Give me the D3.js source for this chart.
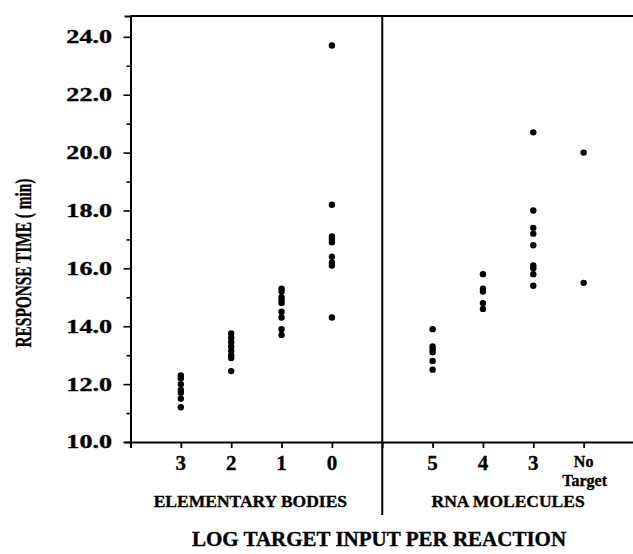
<!DOCTYPE html>
<html><head><meta charset="utf-8">
<script src="https://cdn.jsdelivr.net/npm/d3@7"></script>
<style>
html,body{margin:0;padding:0;background:#fff;}
svg{display:block;}
text{font-family:"Liberation Serif","Times New Roman",serif;font-weight:bold;fill:#000;stroke:#000;stroke-width:0.35px;}
</style></head>
<body>
<svg id="chart" width="633" height="554"></svg>
<script>
// ---- data ----
const ebLabels = ["3", "2", "1", "0"];
const rnaLabels = ["5", "4", "3", "No Target"];
const eb3 = [12.3, 12.2, 12.0, 11.8, 11.7, 11.5, 11.2];
const eb2 = [13.75, 13.6, 13.45, 13.3, 13.15, 13.0, 12.9, 12.45];
const eb1 = [15.3, 15.2, 15.0, 14.9, 14.8, 14.5, 14.3, 13.9, 13.7];
const eb0 = [23.7, 18.2, 17.1, 17.0, 16.9, 16.4, 16.2, 16.1, 14.3];
const rna5 = [13.9, 13.3, 13.2, 13.1, 12.8, 12.5];
const rna4 = [15.8, 15.3, 15.2, 14.8, 14.6];
const rna3 = [20.7, 18.0, 17.4, 17.2, 16.8, 16.1, 16.0, 15.8, 15.4];
const noTarget = [20.0, 15.5];
const yTickValues = [10, 12, 14, 16, 18, 20, 22, 24];
const groupNames = ["ELEMENTARY BODIES", "RNA MOLECULES"];
const xTitle = "LOG TARGET INPUT PER REACTION";
const yTitle = "RESPONSE TIME ( min)";

const ebSeries = [eb3, eb2, eb1, eb0];
const rnaSeries = [rna5, rna4, rna3, noTarget];

// ---- layout ----
const svg = d3.select("#chart");
const x = d3.scaleLinear().domain([0, 10]).range([130.5, 634]);
const y = d3.scaleLinear().domain([10, 24.72]).range([442, 16]);

const cats = [];
ebLabels.forEach((l, i) => cats.push({label: l, slot: 1 + i, values: ebSeries[i]}));
rnaLabels.forEach((l, i) => cats.push({label: l, slot: 6 + i, values: rnaSeries[i]}));

// y axis
const yAxis = d3.axisLeft(y)
  .tickValues(d3.range(10, 25, 1))
  .tickFormat("")
  .tickSizeOuter(0)
  .tickSize(6);
const gy = svg.append("g").attr("transform", `translate(${x(0)},0)`).call(yAxis);
gy.selectAll(".tick line")
  .attr("x2", d => d % 2 === 0 ? -7 : -4)
  .attr("stroke", "#000").attr("stroke-width", 1.6);
gy.select(".domain").attr("stroke", "#000").attr("stroke-width", 2);

svg.append("g").selectAll("text").data(yTickValues).join("text")
  .attr("transform", d => `translate(112,${y(d)}) scale(1.45,1)`)
  .attr("dy", "0.36em")
  .attr("text-anchor", "end")
  .attr("font-size", 18)
  .text(d => d.toFixed(1));

// x axis
const xAxis = d3.axisBottom(x)
  .tickValues(d3.range(0, 11, 1))
  .tickFormat("")
  .tickSizeOuter(0)
  .tickSize(6);
const gx = svg.append("g").attr("transform", `translate(0,${y(10)})`).call(xAxis);
gx.selectAll(".tick line").attr("stroke", "#000").attr("stroke-width", 1.8);
gx.select(".domain").attr("stroke", "#000").attr("stroke-width", 2);

// top frame line
svg.append("line")
  .attr("x1", x(0)).attr("x2", 633)
  .attr("y1", y.range()[1]).attr("y2", y.range()[1])
  .attr("stroke", "#000").attr("stroke-width", 2);

// divider
svg.append("line")
  .attr("x1", x(5)).attr("x2", x(5))
  .attr("y1", y.range()[1]).attr("y2", 515)
  .attr("stroke", "#000").attr("stroke-width", 2);

// points
const pts = [];
cats.forEach(c => c.values.forEach(v => pts.push({slot: c.slot, v})));
svg.append("g").selectAll("circle").data(pts).join("circle")
  .attr("cx", d => x(d.slot)).attr("cy", d => y(d.v))
  .attr("r", 3.2).attr("fill", "#000");

// x tick labels
const tl = svg.append("g");
cats.forEach(c => {
  const words = c.label.split(" ");
  if (words.length === 1) {
    tl.append("text").attr("x", x(c.slot)).attr("y", 470)
      .attr("text-anchor", "middle").attr("font-size", 21).text(c.label);
  } else {
    tl.append("text").attr("x", x(c.slot)).attr("y", 467)
      .attr("text-anchor", "middle").attr("font-size", 16).text(words[0]);
    tl.append("text").attr("x", x(c.slot) + 1).attr("y", 486)
      .attr("text-anchor", "middle").attr("font-size", 16).text(words[1]);
  }
});

// group labels
svg.append("text").attr("x", x(2.5) - 6).attr("y", 507)
  .attr("text-anchor", "middle").attr("font-size", 17.5).text(groupNames[0]);
svg.append("text").attr("x", x(7.5)).attr("y", 507)
  .attr("text-anchor", "middle").attr("font-size", 17.5).text(groupNames[1]);

// axis titles
svg.append("text").attr("x", 379).attr("y", 546)
  .attr("text-anchor", "middle").attr("font-size", 21).text(xTitle);
svg.append("text")
  .attr("transform", "translate(31,263) rotate(-90) scale(0.64,1)")
  .attr("text-anchor", "middle").attr("font-size", 24)
  .text(yTitle);
</script>
</body></html>
